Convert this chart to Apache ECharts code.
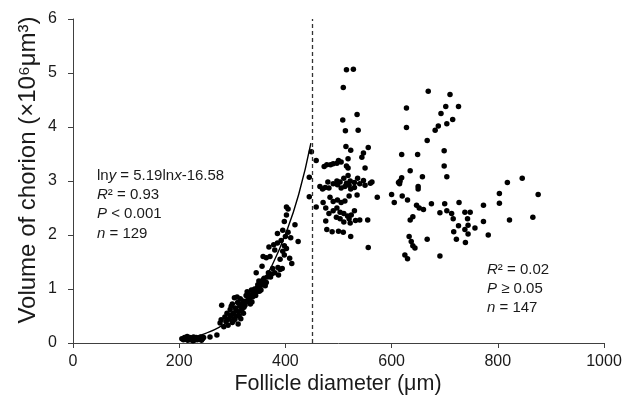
<!DOCTYPE html>
<html><head><meta charset="utf-8">
<script src="https://cdn.jsdelivr.net/npm/echarts@6/dist/echarts.min.js"></script>
<style>html,body{margin:0;padding:0;background:#fff}#c{width:638px;height:404px}</style>
</head><body><div id="c"></div><script>
// ---- data (follicle diameter in µm, chorion volume in ×10^6 µm^3) ----
const xTicks = [0, 200, 400, 600, 800, 1000];
const yTicks = [0, 1, 2, 3, 4, 5, 6];
const thresholdDiameter = 451;

const earlyDiameter = [205,208,210,212,214,215,216,218,220,221,223,225,226,227,228,230,232,234,236,238,240,242,244,246,258,271,
277,279,280,284,286,288,290,292,294,296,296,298,298,300,300,302,303,304,305,306,307,308,309,310,311,312,313,314,315,316,317,318,320,321,322,
324,326,327,328,330,332,333,334,336,337,338,340,342,343,344,345,346,347,348,350,351,352,354,355,356,356,358,360,361,362,364,366,368,
369,358,364,371,372,374,376,380,387,386,390,394,390,398,408,412,380,385,392,398,402,395,378,385,395,400,405,410,424,398,402,418,402,405,445,445,449];
const earlyVolume = [0.08,0.06,0.10,0.07,0.09,0.12,0.05,0.08,0.10,0.06,0.09,0.07,0.04,0.11,0.05,0.08,0.10,0.06,0.09,0.07,0.11,0.05,0.08,0.10,0.11,0.15,
0.37,0.43,0.70,0.30,0.48,0.40,0.55,0.33,0.45,0.62,0.52,0.50,0.68,0.38,0.72,0.55,0.42,0.84,0.44,0.65,0.60,0.50,0.85,0.75,0.35,0.58,0.50,0.68,0.82,0.45,0.72,0.62,0.78,0.55,0.66,
0.70,0.88,0.78,0.95,0.80,0.90,0.84,0.72,0.98,0.76,0.85,0.93,1.00,0.92,0.88,1.30,0.95,1.02,1.08,1.15,0.96,1.04,0.98,1.08,1.12,1.42,1.17,1.20,1.10,1.06,1.12,1.22,1.30,
1.78,1.60,1.58,1.60,1.22,1.28,1.38,1.30,1.26,1.40,1.36,1.38,1.55,1.63,1.57,1.47,1.72,1.85,1.90,1.80,1.75,1.70,1.82,2.03,2.09,1.97,2.05,1.95,1.88,2.25,2.37,2.19,2.52,2.48,2.71,3.07,3.54];

const lateDiameter = [515,528,509,669,710,726,702,628,693,535,715,704,688,682,508,628,513,537,667,514,523,556,547,544,699,619,649,
458,473,478,485,490,497,500,505,515,518,550,518,635,658,699,704,497,503,510,518,522,530,536,547,563,515,619,613,616,650,
465,470,475,482,490,498,505,512,520,530,540,550,560,480,523,
484,490,498,505,512,520,535,573,458,600,615,620,630,650,605,
471,476,482,490,497,503,510,517,524,496,503,530,
510,520,532,540,555,522,476,478,488,500,509,523,556,
647,652,660,675,700,727,640,635,691,704,713,716,726,738,748,743,744,757,738,717,744,739,722,633,637,640,644,625,630,667,691,773,782,773,803,803,818,846,876,822,866];
const lateVolume = [5.06,5.07,4.73,4.66,4.60,4.38,4.38,4.35,4.25,4.23,4.14,4.06,4.02,3.94,4.13,3.99,3.93,3.94,3.75,3.64,3.57,3.62,3.52,3.44,3.56,3.49,3.49,
3.38,3.27,3.30,3.30,3.32,3.33,3.38,3.35,3.28,3.41,3.24,3.24,3.19,3.08,3.28,3.08,3.00,2.98,3.05,3.10,3.00,2.97,3.05,3.01,2.98,2.96,3.06,2.97,3.00,2.90,
2.90,2.85,2.88,2.87,2.95,2.93,2.87,2.90,2.92,2.88,2.95,2.92,2.96,2.98,2.85,
2.70,2.62,2.65,2.60,2.63,2.72,2.74,2.70,2.52,2.75,2.95,2.72,2.65,2.85,2.60,
2.60,2.50,2.40,2.45,2.50,2.42,2.40,2.35,2.37,2.33,2.30,2.45,
2.24,2.30,2.27,2.28,2.28,2.22,2.26,2.10,2.06,2.07,2.05,1.97,1.77,
2.55,2.50,2.47,2.58,2.58,2.60,2.34,2.28,2.41,2.45,2.40,2.30,2.17,2.42,2.42,2.30,2.18,2.13,2.10,2.06,2.02,1.86,1.92,1.97,1.88,1.80,1.76,1.63,1.56,1.92,1.61,2.25,2.00,2.55,2.77,2.59,2.97,3.05,2.75,2.28,2.33];

// fitted curve (ln y = 5.19 ln x - 16.58)
const curveDiameter = [205,225,250,275,300,325,350,375,400,425,448];
const curveVolume   = [0.06,0.10,0.18,0.29,0.45,0.69,1.01,1.44,2.01,2.75,3.70];

const pair = (xs, ys) => xs.map((x, i) => [x, ys[i]]);

const chart = echarts.init(document.getElementById('c'), null, {renderer: 'canvas'});
const FONT = '"Liberation Sans", Arial, sans-serif';
const axisColor = '#404040';
const txt = '#1a1a1a';
const rich = {n: {fontSize: 15, fontFamily: FONT, fill: txt}, i: {fontSize: 15, fontFamily: FONT, fontStyle: 'italic', fill: txt}};
const note = (x, y, text) => ({type: 'text', x: x, y: y, silent: true, style: {text: text, verticalAlign: 'middle', rich: rich}});

chart.setOption({
  animation: false,
  backgroundColor: '#fff',
  grid: {left: 73, right: 34, top: 19, bottom: 61},
  xAxis: {
    type: 'value', min: xTicks[0], max: xTicks[xTicks.length - 1], interval: xTicks[1] - xTicks[0],
    splitLine: {show: false},
    axisLine: {lineStyle: {color: axisColor, width: 1}},
    axisTick: {show: true, length: 5, lineStyle: {color: axisColor}},
    axisLabel: {color: txt, fontSize: 16, fontFamily: FONT, margin: 11, formatter: v => String(v)}
  },
  yAxis: {
    type: 'value', min: yTicks[0], max: yTicks[yTicks.length - 1], interval: yTicks[1] - yTicks[0],
    splitLine: {show: false},
    axisLine: {show: true, lineStyle: {color: axisColor, width: 1}},
    axisTick: {show: true, length: 5, lineStyle: {color: axisColor}},
    axisLabel: {color: txt, fontSize: 16, fontFamily: FONT, margin: 16, formatter: v => String(v)}
  },
  series: [
    {type: 'scatter', data: pair(earlyDiameter, earlyVolume), symbol: 'circle', symbolSize: 5.5,
     itemStyle: {color: '#000', opacity: 1}, silent: true},
    {type: 'scatter', data: pair(lateDiameter, lateVolume), symbol: 'circle', symbolSize: 5.5,
     itemStyle: {color: '#000', opacity: 1}, silent: true},
    {type: 'line', data: pair(curveDiameter, curveVolume), smooth: true, showSymbol: false, symbol: 'none',
     lineStyle: {color: '#000', width: 1.4}, silent: true,
     markLine: {silent: true, symbol: 'none', label: {show: false},
       lineStyle: {color: '#333', width: 1.3, type: [4, 3]},
       data: [{xAxis: thresholdDiameter}]}}
  ],
  graphic: [
    {type: 'text', x: 28, y: 170, rotation: Math.PI / 2, silent: true,
     style: {text: 'Volume of chorion (×10⁶μm³)', font: '24px ' + FONT, fill: txt, align: 'center', verticalAlign: 'middle'}},
    {type: 'text', x: 338, y: 384, silent: true,
     style: {text: 'Follicle diameter (μm)', font: '21.5px ' + FONT, fill: txt, align: 'center', verticalAlign: 'middle'}},
    note(97, 176, '{n|ln}{i|y}{n| = 5.19ln}{i|x}{n|-16.58}'),
    note(97, 195, '{i|R}{n|² = 0.93}'),
    note(97, 214, '{i|P}{n| < 0.001}'),
    note(97, 234, '{i|n}{n| = 129}'),
    note(487, 270, '{i|R}{n|² = 0.02}'),
    note(487, 289, '{i|P}{n| ≥ 0.05}'),
    note(487, 308, '{i|n}{n| = 147}')
  ]
});
</script></body></html>
